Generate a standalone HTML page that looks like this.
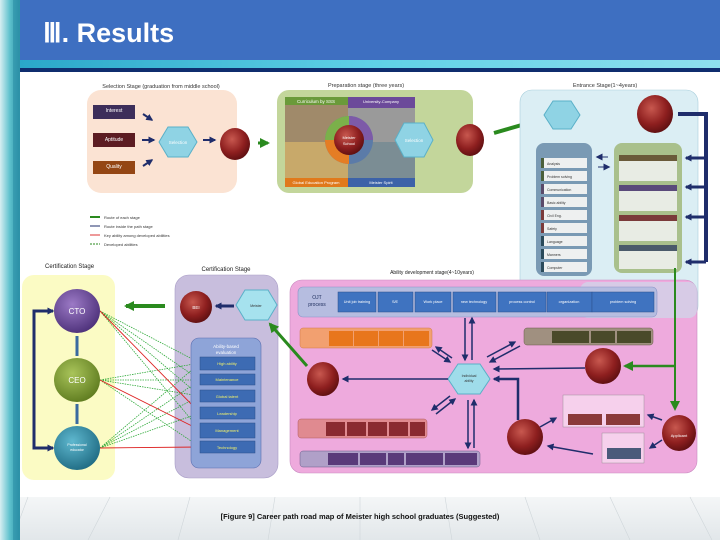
<!DOCTYPE html>
<html><head><meta charset="utf-8"><style>
html,body{margin:0;padding:0;width:720px;height:540px;overflow:hidden;background:#fff}
svg{display:block}
text{font-family:"Liberation Sans",sans-serif}
</style></head><body>
<svg width="720" height="540" viewBox="0 0 720 540" xmlns="http://www.w3.org/2000/svg">
<defs>
<linearGradient id="ls" x1="0" x2="1"><stop offset="0" stop-color="#d6eef2"/><stop offset="0.5" stop-color="#5cc0cc"/><stop offset="1" stop-color="#2b8fa6"/></linearGradient>
<linearGradient id="st" x1="0" x2="1"><stop offset="0" stop-color="#2aa7c9"/><stop offset="0.5" stop-color="#5fd0e6"/><stop offset="1" stop-color="#8fe0ee"/></linearGradient>
<linearGradient id="bot" x1="0" y1="0" x2="0" y2="1"><stop offset="0" stop-color="#f4f6f7"/><stop offset="1" stop-color="#e2e7ea"/></linearGradient>
<radialGradient id="red" cx="0.4" cy="0.35" r="0.7"><stop offset="0" stop-color="#c8584f"/><stop offset="0.6" stop-color="#8e1f1f"/><stop offset="1" stop-color="#5a0e10"/></radialGradient>
<radialGradient id="pur" cx="0.4" cy="0.35" r="0.7"><stop offset="0" stop-color="#9c7ac6"/><stop offset="1" stop-color="#4b2f78"/></radialGradient>
<radialGradient id="grn" cx="0.4" cy="0.35" r="0.7"><stop offset="0" stop-color="#a9c45a"/><stop offset="1" stop-color="#5d7a1e"/></radialGradient>
<radialGradient id="tea" cx="0.4" cy="0.35" r="0.7"><stop offset="0" stop-color="#5fb8cf"/><stop offset="1" stop-color="#1e6a82"/></radialGradient>
<marker id="ab" viewBox="0 0 10 10" refX="8" refY="5" markerWidth="7" markerHeight="7" markerUnits="userSpaceOnUse" orient="auto"><path d="M0,0L10,5L0,10z" fill="#1f2d6b"/></marker>
<marker id="ag" viewBox="0 0 10 10" refX="8" refY="5" markerWidth="10" markerHeight="10" markerUnits="userSpaceOnUse" orient="auto"><path d="M0,0L10,5L0,10z" fill="#2a8a1e"/></marker>
</defs>
<rect x="0" y="0" width="720" height="540" fill="#fff"/>
<rect x="0" y="497" width="720" height="43" fill="url(#bot)"/>
<g stroke="#cfd6da" stroke-width="0.6"><line x1="28" y1="497" x2="12" y2="540"/><line x1="110" y1="497" x2="88" y2="540"/><line x1="190" y1="497" x2="178" y2="540"/><line x1="275" y1="497" x2="268" y2="540"/><line x1="360" y1="497" x2="360" y2="540"/><line x1="445" y1="497" x2="452" y2="540"/><line x1="525" y1="497" x2="540" y2="540"/><line x1="610" y1="497" x2="630" y2="540"/><line x1="690" y1="497" x2="712" y2="540"/></g>
<rect x="0" y="0" width="20" height="540" fill="url(#ls)"/>
<rect x="13" y="0" width="6" height="540" fill="#2b8fa6" opacity="0.6"/>
<rect x="20" y="0" width="700" height="60" fill="#3e6fc1"/>
<rect x="20" y="60" width="700" height="8" fill="url(#st)"/>
<rect x="20" y="68" width="700" height="4" fill="#0f2d6e"/>
<text x="43" y="42" font-size="27" font-weight="bold" fill="#fff">Ⅲ. Results</text>

<text x="161" y="88" font-size="5.5" text-anchor="middle" fill="#333">Selection Stage (graduation from middle school)</text>
<rect x="87" y="90" width="150" height="103" rx="14" fill="#fbe3d3"/>
<rect x="93" y="105" width="42" height="14" fill="#3d2e5a"/><text x="114" y="112" font-size="5" fill="#fff" text-anchor="middle">Interest</text>
<rect x="93" y="133" width="42" height="14" fill="#5c1c22"/><text x="114" y="141" font-size="5" fill="#fff" text-anchor="middle">Aptitude</text>
<rect x="93" y="161" width="42" height="13" fill="#944614"/><text x="114" y="168" font-size="5" fill="#fff" text-anchor="middle">Quality</text>
<g stroke="#1f2d6b" stroke-width="2" marker-end="url(#ab)"><line x1="143" y1="114" x2="152" y2="120"/><line x1="142" y1="140" x2="154" y2="140"/><line x1="143" y1="166" x2="152" y2="160"/><line x1="203" y1="140" x2="215" y2="140"/><line x1="450" y1="140" x2="460" y2="140"/><line x1="590" y1="114" x2="620" y2="114"/></g>
<polygon points="168,127 188,127 197,142 188,157 168,157 159,142" fill="#8fd3e4" stroke="#5ab0c8"/><text x="178" y="144" font-size="4.5" fill="#fff" text-anchor="middle">Selection</text>
<ellipse cx="235" cy="144" rx="15" ry="16" fill="url(#red)"/>
<line x1="258" y1="143" x2="268" y2="143" stroke="#2a8a1e" stroke-width="3" marker-end="url(#ag)"/>

<text x="366" y="87" font-size="5.5" text-anchor="middle" fill="#333">Preparation stage (three years)</text>
<rect x="277" y="90" width="196" height="103" rx="12" fill="#c3d69b"/>
<rect x="285" y="97" width="63" height="8" fill="#6a9a3a"/><text x="316" y="103" font-size="4.5" fill="#fff" text-anchor="middle">Curriculum by SSS</text>
<rect x="285" y="105" width="63" height="37" fill="#a08a6a"/>
<rect x="285" y="142" width="63" height="36" fill="#c8a96a"/>
<rect x="285" y="178" width="63" height="9" fill="#e0791c"/><text x="316" y="184" font-size="4" fill="#fff" text-anchor="middle">Global Education Program</text>
<rect x="348" y="97" width="67" height="11" fill="#6c4a9a"/><text x="381" y="103" font-size="4" fill="#fff" text-anchor="middle">University-Company</text>
<rect x="348" y="108" width="67" height="34" fill="#9a9a9a"/>
<rect x="348" y="142" width="67" height="36" fill="#7b8d94"/>
<rect x="348" y="178" width="67" height="9" fill="#3c62a8"/><text x="381" y="184" font-size="4" fill="#fff" text-anchor="middle">Meister Spirit</text>
<circle cx="349" cy="140" r="24" fill="#5b7ba8"/>
<path d="M349,116 A24,24 0 0 0 325,140 L349,140Z" fill="#7bb04a"/>
<path d="M349,116 A24,24 0 0 1 373,140 L349,140Z" fill="#7d5aa8"/>
<path d="M325,140 A24,24 0 0 0 349,164 L349,140Z" fill="#e57d24"/>
<circle cx="349" cy="140" r="15" fill="url(#red)"/>
<text x="349" y="139" font-size="4" fill="#fff" text-anchor="middle">Meister</text><text x="349" y="145" font-size="4" fill="#fff" text-anchor="middle">School</text>
<polygon points="404,123 424,123 433,140 424,157 404,157 395,140" fill="#8fd3e4" stroke="#5ab0c8"/><text x="414" y="142" font-size="4.5" fill="#fff" text-anchor="middle">Selection</text>
<ellipse cx="470" cy="140" rx="14" ry="16" fill="url(#red)"/>
<line x1="494" y1="133" x2="532" y2="122" stroke="#2a8a1e" stroke-width="4" marker-end="url(#ag)"/>

<line x1="90" y1="217" x2="100" y2="217" stroke="#2a8a1e" stroke-width="2"/><text x="104" y="219" font-size="4" fill="#333">Route of each stage</text>
<line x1="90" y1="226" x2="100" y2="226" stroke="#1f2d6b" stroke-width="1"/><text x="104" y="228" font-size="4" fill="#333">Route inside the path stage</text>
<line x1="90" y1="235" x2="100" y2="235" stroke="#d33" stroke-width="1"/><text x="104" y="237" font-size="4" fill="#333">Key ability among developed abilities</text>
<line x1="90" y1="244" x2="100" y2="244" stroke="#2a8a1e" stroke-width="1" stroke-dasharray="2,1"/><text x="104" y="246" font-size="4" fill="#333">Developed abilities</text>

<text x="605" y="87" font-size="5.5" text-anchor="middle" fill="#333">Entrance Stage(1~4years)</text>
<rect x="520" y="90" width="178" height="228" rx="12" fill="#dbeef4" stroke="#a9cfdc" stroke-width="0.6"/>
<polygon points="553,101 571,101 580,115 571,129 553,129 544,115" fill="#8fd3e4" stroke="#5ab0c8"/>
<ellipse cx="655" cy="114" rx="18" ry="19" fill="url(#red)"/>
<rect x="536" y="143" width="56" height="133" rx="8" fill="#7a9ab4"/>
<g fill="#eef0f0"><rect x="541" y="158" width="46" height="10"/><rect x="541" y="171" width="46" height="10"/><rect x="541" y="184" width="46" height="10"/><rect x="541" y="197" width="46" height="10"/><rect x="541" y="210" width="46" height="10"/><rect x="541" y="223" width="46" height="10"/><rect x="541" y="236" width="46" height="10"/><rect x="541" y="249" width="46" height="10"/><rect x="541" y="262" width="46" height="10"/></g>
<g fill="#4a5f3a"><rect x="541" y="158" width="3" height="10"/><rect x="541" y="171" width="3" height="10"/></g>
<g fill="#5a4a6a"><rect x="541" y="184" width="3" height="10"/><rect x="541" y="197" width="3" height="10"/></g>
<g fill="#7a3a3a"><rect x="541" y="210" width="3" height="10"/><rect x="541" y="223" width="3" height="10"/></g>
<g fill="#2a4a5a"><rect x="541" y="236" width="3" height="10"/><rect x="541" y="249" width="3" height="10"/><rect x="541" y="262" width="3" height="10"/></g>
<g font-size="3.5" fill="#333"><text x="547" y="165">Analysis</text><text x="547" y="178">Problem solving</text><text x="547" y="191">Communication</text><text x="547" y="204">Basic ability</text><text x="547" y="217">Civil Eng.</text><text x="547" y="230">Safety</text><text x="547" y="243">Language</text><text x="547" y="256">Manners</text><text x="547" y="269">Computer</text></g>
<rect x="614" y="143" width="68" height="130" rx="8" fill="#a9c08c"/>
<rect x="619" y="155" width="58" height="6" fill="#6a5a3a"/><rect x="619" y="161" width="58" height="20" fill="#e8ece4"/>
<rect x="619" y="185" width="58" height="6" fill="#5a4a7a"/><rect x="619" y="191" width="58" height="20" fill="#e8ece4"/>
<rect x="619" y="215" width="58" height="6" fill="#7a3a3a"/><rect x="619" y="221" width="58" height="20" fill="#e8ece4"/>
<rect x="619" y="245" width="58" height="6" fill="#4a5a6a"/><rect x="619" y="251" width="58" height="18" fill="#e8ece4"/>
<path d="M678,114 L706,114 L706,262" fill="none" stroke="#1f2d6b" stroke-width="4"/>
<g stroke="#1f2d6b" stroke-width="3" marker-end="url(#ab)"><line x1="706" y1="158" x2="686" y2="158"/><line x1="706" y1="187" x2="686" y2="187"/><line x1="706" y1="217" x2="686" y2="217"/><line x1="706" y1="262" x2="686" y2="262"/></g>
<g stroke="#1f2d6b" stroke-width="1" marker-end="url(#ab)"><line x1="608" y1="157" x2="597" y2="157"/><line x1="598" y1="167" x2="609" y2="167"/></g>

<text x="45" y="268" font-size="6" fill="#222">Certification Stage</text>
<rect x="22" y="275" width="93" height="205" rx="12" fill="#fbfbc4"/>
<text x="226" y="271" font-size="6" fill="#222" text-anchor="middle">Certification Stage</text>
<rect x="175" y="275" width="103" height="203" rx="14" fill="#c8bedd" stroke="#a89cc6" stroke-width="0.6"/>
<text x="432" y="274" font-size="5" fill="#222" text-anchor="middle">Ability development stage(4~10years)</text>
<rect x="290" y="280" width="407" height="193" rx="12" fill="#eeaadd" stroke="#c98ac0" stroke-width="0.6"/>
<rect x="580" y="282" width="117" height="36" rx="8" fill="#cdd9ea" opacity="0.7"/>

<path d="M48,311 L34,311 L34,448 L48,448" fill="none" stroke="#1f2d6b" stroke-width="3"/>
<g stroke="#1f2d6b" stroke-width="3" marker-end="url(#ab)"><line x1="34" y1="311" x2="53" y2="311"/><line x1="34" y1="448" x2="53" y2="448"/></g>
<g stroke="#3a6aa0" stroke-width="3"><line x1="77" y1="336" x2="77" y2="356"/><line x1="77" y1="404" x2="77" y2="424"/></g>
<g stroke="#2faa3a" stroke-width="0.8" stroke-dasharray="1.5,1"><line x1="100" y1="311" x2="200" y2="363"/><line x1="100" y1="311" x2="200" y2="380"/><line x1="100" y1="311" x2="200" y2="396"/><line x1="100" y1="311" x2="200" y2="430"/><line x1="100" y1="380" x2="200" y2="363"/><line x1="100" y1="380" x2="200" y2="380"/><line x1="100" y1="380" x2="200" y2="396"/><line x1="100" y1="380" x2="200" y2="447"/><line x1="100" y1="448" x2="200" y2="363"/><line x1="100" y1="448" x2="200" y2="380"/><line x1="100" y1="448" x2="200" y2="396"/><line x1="100" y1="448" x2="200" y2="413"/></g>
<g stroke="#d22" stroke-width="0.9"><line x1="100" y1="311" x2="200" y2="413"/><line x1="100" y1="380" x2="200" y2="430"/><line x1="100" y1="448" x2="200" y2="447"/></g>
<ellipse cx="77" cy="311" rx="23" ry="22" fill="url(#pur)"/><text x="77" y="314" font-size="8" fill="#fff" text-anchor="middle">CTO</text>
<ellipse cx="77" cy="380" rx="23" ry="22" fill="url(#grn)"/><text x="77" y="383" font-size="8" fill="#fff" text-anchor="middle">CEO</text>
<ellipse cx="77" cy="448" rx="23" ry="22" fill="url(#tea)"/><text x="77" y="446" font-size="3.5" fill="#fff" text-anchor="middle">Professional</text><text x="77" y="451" font-size="3.5" fill="#fff" text-anchor="middle">educator</text>
<line x1="165" y1="306" x2="126" y2="306" stroke="#2a8a1e" stroke-width="4" marker-end="url(#ag)"/>

<ellipse cx="196" cy="307" rx="16" ry="16" fill="url(#red)"/><text x="196" y="309" font-size="4.5" fill="#fff" text-anchor="middle">BEI</text>
<line x1="234" y1="306" x2="216" y2="306" stroke="#1f2d6b" stroke-width="3" marker-end="url(#ab)"/>
<polygon points="245,290 268,290 277,305 268,320 245,320 236,305" fill="#a6e2ee" stroke="#5ab0c8"/><text x="256" y="307" font-size="3.5" fill="#333" text-anchor="middle">Meister</text>
<rect x="191" y="338" width="70" height="130" rx="8" fill="#8ea4d8" stroke="#5a6eb0" stroke-width="0.6"/>
<text x="226" y="348" font-size="4.5" fill="#fff" text-anchor="middle">Ability-based</text><text x="226" y="354" font-size="4.5" fill="#fff" text-anchor="middle">evaluation</text>
<g fill="#3d6bb3" stroke="#2a4f8a" stroke-width="0.5"><rect x="200" y="357" width="55" height="13"/><rect x="200" y="374" width="55" height="11"/><rect x="200" y="390" width="55" height="12"/><rect x="200" y="407" width="55" height="12"/><rect x="200" y="423" width="55" height="15"/><rect x="200" y="441" width="55" height="12"/></g>
<g font-size="4" fill="#f3f36a" text-anchor="middle"><text x="227" y="365">High ability</text><text x="227" y="381">Maintenance</text><text x="227" y="398">Global talent</text><text x="227" y="415">Leadership</text><text x="227" y="432">Management</text><text x="227" y="449">Technology</text></g>

<rect x="298" y="287" width="359" height="30" rx="5" fill="#b6bde0" stroke="#8a94c8" stroke-width="0.6"/>
<text x="317" y="299" font-size="5" fill="#1a2a5a" text-anchor="middle">OJT</text><text x="317" y="306" font-size="5" fill="#1a2a5a" text-anchor="middle">process</text>
<g fill="#3f73c0" stroke="#2a4f8a" stroke-width="0.5"><rect x="338" y="292" width="38" height="20"/><rect x="378" y="292" width="35" height="20"/><rect x="415" y="292" width="36" height="20"/><rect x="453" y="292" width="43" height="20"/><rect x="498" y="292" width="48" height="20"/><rect x="547" y="292" width="45" height="20"/><rect x="592" y="292" width="62" height="20"/></g>
<g font-size="3.8" fill="#fff" text-anchor="middle"><text x="357" y="303">Unit job training</text><text x="395" y="303">S/E</text><text x="433" y="303">Work place</text><text x="474" y="303">new technology</text><text x="522" y="303">process control</text><text x="569" y="303">organization</text><text x="623" y="303">problem solving</text></g>
<rect x="300" y="328" width="132" height="20" rx="3" fill="#f2a070" stroke="#d07a4a" stroke-width="0.5"/>
<g fill="#e8761c"><rect x="329" y="331" width="24" height="15"/><rect x="354" y="331" width="24" height="15"/><rect x="379" y="331" width="24" height="15"/><rect x="404" y="331" width="25" height="15"/></g>
<rect x="524" y="328" width="129" height="17" rx="3" fill="#a09080" stroke="#6a5a4a" stroke-width="0.5"/>
<g fill="#4a4a2a"><rect x="552" y="331" width="37" height="12"/><rect x="591" y="331" width="24" height="12"/><rect x="617" y="331" width="34" height="12"/></g>
<rect x="298" y="419" width="129" height="19" rx="3" fill="#e08a90" stroke="#b05a60" stroke-width="0.5"/>
<g fill="#8a2a30"><rect x="326" y="422" width="19" height="14"/><rect x="347" y="422" width="19" height="14"/><rect x="368" y="422" width="19" height="14"/><rect x="389" y="422" width="19" height="14"/><rect x="410" y="422" width="15" height="14"/></g>
<rect x="300" y="451" width="180" height="16" rx="3" fill="#b0a0c8" stroke="#6a5a8a" stroke-width="0.5"/>
<g fill="#5a3a7a"><rect x="328" y="453" width="30" height="12"/><rect x="360" y="453" width="26" height="12"/><rect x="388" y="453" width="16" height="12"/><rect x="406" y="453" width="37" height="12"/><rect x="445" y="453" width="32" height="12"/></g>
<polygon points="458,364 480,364 490,379 480,394 458,394 448,379" fill="#9fdcea" stroke="#5ab0c8"/>
<text x="469" y="377" font-size="3.5" fill="#333" text-anchor="middle">Individual</text><text x="469" y="382" font-size="3.5" fill="#333" text-anchor="middle">ability</text>
<g stroke="#1f2d6b" stroke-width="1.5" marker-end="url(#ab)">
<line x1="465" y1="318" x2="465" y2="360"/><line x1="472" y1="360" x2="472" y2="318"/>
<line x1="448" y1="379" x2="343" y2="379"/>
<line x1="585" y1="368" x2="494" y2="369"/>
<line x1="432" y1="350" x2="450" y2="362"/><line x1="452" y1="358" x2="436" y2="347"/>
<line x1="520" y1="346" x2="490" y2="362"/><line x1="487" y1="357" x2="515" y2="342"/>
<line x1="450" y1="396" x2="432" y2="410"/><line x1="436" y1="414" x2="455" y2="399"/>
<line x1="468" y1="400" x2="468" y2="448"/><line x1="474" y1="448" x2="474" y2="400"/>
<line x1="540" y1="427" x2="556" y2="418"/><line x1="593" y1="454" x2="548" y2="446"/>
<line x1="662" y1="420" x2="648" y2="415"/><line x1="662" y1="440" x2="650" y2="448"/>
</g>
<path d="M518,420 L518,379 L494,379" fill="none" stroke="#1f2d6b" stroke-width="2.5" marker-end="url(#ab)"/>
<line x1="675" y1="268" x2="675" y2="409" stroke="#2a8a1e" stroke-width="2" marker-end="url(#ag)"/>
<line x1="675" y1="366" x2="625" y2="366" stroke="#2a8a1e" stroke-width="2.5" marker-end="url(#ag)"/>
<line x1="307" y1="366" x2="270" y2="324" stroke="#2a8a1e" stroke-width="3" marker-end="url(#ag)"/>
<rect x="563" y="395" width="81" height="32" fill="#f6d0ec" stroke="#888" stroke-width="0.4"/>
<rect x="568" y="414" width="34" height="11" fill="#8a3a3a"/><rect x="606" y="414" width="34" height="11" fill="#8a3a3a"/>
<rect x="602" y="433" width="42" height="30" fill="#f6d0ec" stroke="#888" stroke-width="0.4"/>
<rect x="607" y="448" width="34" height="11" fill="#4a5a7a"/>
<ellipse cx="323" cy="379" rx="16" ry="17" fill="url(#red)"/>
<ellipse cx="603" cy="366" rx="18" ry="18" fill="url(#red)"/>
<ellipse cx="525" cy="437" rx="18" ry="18" fill="url(#red)"/>
<ellipse cx="679" cy="433" rx="17" ry="18" fill="url(#red)"/><text x="679" y="437" font-size="4" fill="#fff" text-anchor="middle">Applicant</text>

<text x="360" y="519" font-size="7.5" font-weight="bold" fill="#111" text-anchor="middle" font-family="Liberation Serif">[Figure 9] Career path road map of Meister high school graduates (Suggested)</text>
</svg>
</body></html>
